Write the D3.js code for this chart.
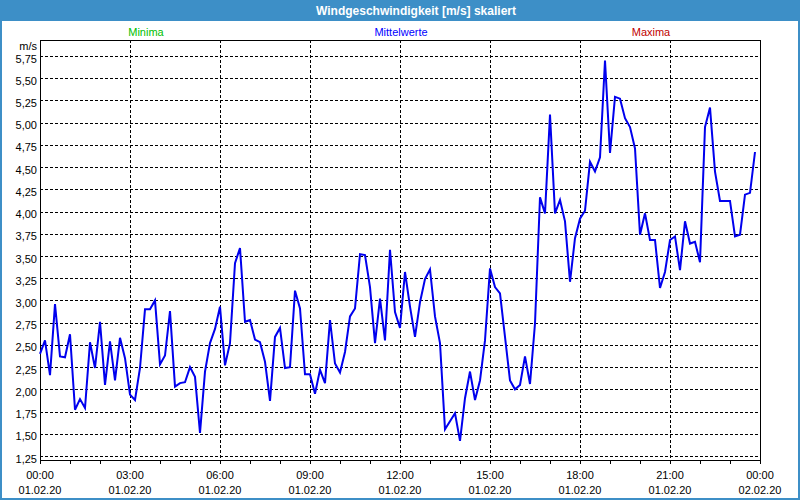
<!DOCTYPE html>
<html>
<head>
<meta charset="utf-8">
<script src="https://cdn.jsdelivr.net/npm/d3@7"></script>
<style>
html,body{margin:0;padding:0;background:#fff;}
svg{display:block;}
text{font-family:"Liberation Sans",Arial,sans-serif;}
</style>
</head>
<body>
<svg id="chart" width="800" height="500"></svg>
<script>
// ---- data ----
const title = "Windgeschwindigkeit [m/s] skaliert";
const legendLabels = ["Minima", "Mittelwerte", "Maxima"];
const unitLabel = "m/s";
const startTime = "2020-02-01T00:00:00";
const endTime = "2020-02-02T00:00:00";
const intervalMinutes = 10;
// Mittelwerte, one value every 10 minutes from 00:00 to 23:50
const meanValues = [
  2.40, 2.55, 2.16, 2.96, 2.37, 2.36, 2.62, 1.77, 1.89, 1.79,
  2.53, 2.24, 2.76, 2.05, 2.54, 2.10, 2.58, 2.35, 1.94, 1.88,
  2.24, 2.90, 2.90, 3.00, 2.28, 2.38, 2.88, 2.03, 2.07, 2.08,
  2.25, 2.14, 1.51, 2.20, 2.52, 2.68, 2.93, 2.27, 2.52, 3.42,
  3.59, 2.76, 2.78, 2.56, 2.53, 2.31, 1.87, 2.59, 2.69, 2.24,
  2.25, 3.11, 2.91, 2.17, 2.17, 1.95, 2.22, 2.07, 2.78, 2.29,
  2.19, 2.42, 2.82, 2.91, 3.52, 3.51, 3.15, 2.52, 3.02, 2.55,
  3.57, 2.87, 2.69, 3.32, 2.93, 2.59, 2.98, 3.24, 3.35, 2.82,
  2.52, 1.55, 1.64, 1.73, 1.42, 1.90, 2.20, 1.88, 2.10, 2.55,
  3.36, 3.15, 3.08, 2.59, 2.10, 2.00, 2.05, 2.37, 2.06, 2.74,
  4.16, 3.98, 5.09, 3.98, 4.13, 3.89, 3.21, 3.70, 3.92, 4.01,
  4.56, 4.45, 4.61, 5.70, 4.66, 5.29, 5.27, 5.05, 4.95, 4.71,
  3.74, 3.98, 3.68, 3.68, 3.14, 3.32, 3.68, 3.72, 3.34, 3.89,
  3.64, 3.66, 3.43, 4.95, 5.17, 4.45, 4.12, 4.12, 4.12, 3.72,
  3.74, 4.19, 4.21, 4.67
];
const yTickValues = [1.25, 1.5, 1.75, 2.0, 2.25, 2.5, 2.75, 3.0, 3.25, 3.5, 3.75, 4.0, 4.25, 4.5, 4.75, 5.0, 5.25, 5.5, 5.75];
const yTickLabels = ["1,25","1,50","1,75","2,00","2,25","2,50","2,75","3,00","3,25","3,50","3,75","4,00","4,25","4,50","4,75","5,00","5,25","5,50","5,75"];
const xTickHours = [0, 3, 6, 9, 12, 15, 18, 21, 24];
const xTimeLabels = ["00:00","03:00","06:00","09:00","12:00","15:00","18:00","21:00","00:00"];
const xDateLabels = ["01.02.20","01.02.20","01.02.20","01.02.20","01.02.20","01.02.20","01.02.20","01.02.20","02.02.20"];
const yDomain = [1.205, 5.93];

// ---- layout ----
const W = 800, H = 500;
const plot = {left: 40, right: 760, top: 40, bottom: 460};
const barColor = "#3d8fc7";
const lineColor = "#0000ee";
const legendColors = ["#00c000", "#0000ff", "#c00000"];
const legendX = [146, 401, 651];

const svg = d3.select("#chart");
const t0 = new Date(startTime), t1 = new Date(endTime);
const x = d3.scaleTime().domain([t0, t1]).range([plot.left, plot.right]);
const y = d3.scaleLinear().domain(yDomain).range([plot.bottom, plot.top]);
const data = meanValues.map((v, i) => ({t: new Date(t0.getTime() + i * intervalMinutes * 60000), v}));

// window frame
svg.append("rect").attr("x", 0).attr("y", 0).attr("width", W).attr("height", H).attr("fill", "#fff");
svg.append("rect").attr("x", 0).attr("y", 0).attr("width", W).attr("height", 21).attr("fill", barColor);
svg.append("rect").attr("x", 1).attr("y", 1).attr("width", W - 2).attr("height", H - 2)
  .attr("fill", "none").attr("stroke", barColor).attr("stroke-width", 2);
svg.append("text").attr("x", 416).attr("y", 14.5).attr("text-anchor", "middle")
  .attr("fill", "#fff").attr("font-weight", "bold").attr("font-size", 12).text(title);

// legend labels
svg.selectAll("text.legend").data(legendLabels).join("text").attr("class", "legend")
  .attr("x", (d, i) => legendX[i]).attr("y", 35.5).attr("text-anchor", "middle")
  .attr("font-size", 11).attr("fill", (d, i) => legendColors[i]).text(d => d);

// grid
const grid = svg.append("g").attr("shape-rendering", "crispEdges");
grid.selectAll("line.hg").data(yTickValues).join("line").attr("class", "hg")
  .attr("x1", plot.left).attr("x2", plot.right)
  .attr("y1", d => Math.round(y(d)) + 0.5).attr("y2", d => Math.round(y(d)) + 0.5)
  .attr("stroke", "#000").attr("stroke-dasharray", "3,2");
grid.selectAll("line.vg").data(xTickHours.slice(1, -1)).join("line").attr("class", "vg")
  .attr("x1", d => Math.round(x(d3.timeHour.offset(t0, d))) + 0.5)
  .attr("x2", d => Math.round(x(d3.timeHour.offset(t0, d))) + 0.5)
  .attr("y1", plot.top).attr("y2", plot.bottom)
  .attr("stroke", "#000").attr("stroke-dasharray", "3,2");

// x axis (hourly ticks)
const xAxis = d3.axisBottom(x).ticks(d3.timeHour.every(1)).tickSize(4).tickFormat("");
const gx = svg.append("g").attr("transform", `translate(0,${plot.bottom})`).call(xAxis);
gx.select(".domain").remove();
gx.selectAll(".tick line").attr("stroke", "#000").attr("shape-rendering", "crispEdges");

// x labels
const xl = svg.append("g");
xl.selectAll("text.tl").data(xTickHours).join("text").attr("class", "tl")
  .attr("x", d => x(d3.timeHour.offset(t0, d))).attr("y", 479).attr("text-anchor", "middle")
  .attr("font-size", 11).attr("fill", "#000").text((d, i) => xTimeLabels[i]);
xl.selectAll("text.dl").data(xTickHours).join("text").attr("class", "dl")
  .attr("x", d => x(d3.timeHour.offset(t0, d))).attr("y", 494).attr("text-anchor", "middle")
  .attr("font-size", 11).attr("fill", "#000").text((d, i) => xDateLabels[i]);

// y labels
svg.selectAll("text.yl").data(yTickValues).join("text").attr("class", "yl")
  .attr("x", 37).attr("y", d => y(d) + 6.5).attr("text-anchor", "end")
  .attr("font-size", 11).attr("fill", "#000").text((d, i) => yTickLabels[i]);
svg.append("text").attr("x", 37).attr("y", 50).attr("text-anchor", "end")
  .attr("font-size", 11).attr("fill", "#000").text(unitLabel);

// plot frame
svg.append("rect").attr("x", plot.left + 0.5).attr("y", plot.top + 0.5)
  .attr("width", plot.right - plot.left).attr("height", plot.bottom - plot.top)
  .attr("fill", "none").attr("stroke", "#000").attr("shape-rendering", "crispEdges");

// line
const line = d3.line().x(d => x(d.t)).y(d => y(d.v));
svg.append("path").datum(data).attr("d", line).attr("fill", "none")
  .attr("stroke", lineColor).attr("stroke-width", 2).attr("stroke-linejoin", "miter");
</script>
</body>
</html>
